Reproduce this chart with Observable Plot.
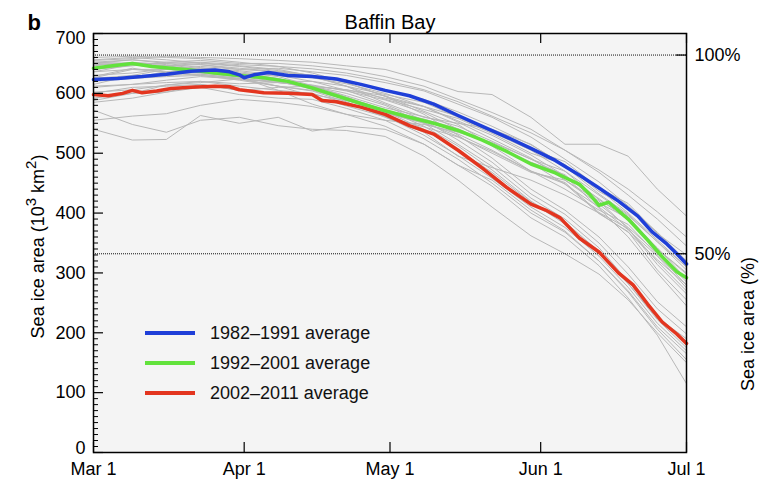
<!DOCTYPE html>
<html>
<head>
<meta charset="utf-8">
<script src="https://cdn.jsdelivr.net/npm/d3@7"></script>
<script src="https://cdn.jsdelivr.net/npm/@observablehq/plot@0.6"></script>
<style>
  html, body { margin: 0; padding: 0; background: #ffffff; }
  #chart { width: 770px; height: 482px; }
</style>
</head>
<body>
<div id="chart"></div>
<script>
// ---------- DATA ----------
const title = "Baffin Bay";
const panelLetter = "b";
const yLabelLeftParts = ["Sea ice area (10", "3", " km", "2", ")"];
const yLabelRight = "Sea ice area (%)";
const yTicks = [0, 100, 200, 300, 400, 500, 600, 700];
const monthTickLabels = ["Mar 1", "Apr 1", "May 1", "Jun 1", "Jul 1"];
const pctValues = [664, 332];
const pctLabels = ["100%", "50%"];

// days since Mar 1 for individual years
const grayDays = [0, 8, 15, 22, 30, 38, 45, 52, 60, 68, 75, 82, 90, 97, 104, 110, 116, 122];
const gray1982_1991 = [
  [655,658,662,660,658,655,652,646,640,622,603,598,560,515,515,495,440,395],
  [640,646,652,655,650,650,646,640,628,612,590,568,540,505,468,430,390,345],
  [630,634,641,645,640,642,636,630,618,604,582,560,527,490,452,412,368,320],
  [612,615,622,628,624,620,620,612,598,585,560,535,505,470,430,396,352,305],
  [585,592,602,615,605,610,612,606,592,578,554,530,497,462,424,388,342,290],
  [648,650,650,652,648,645,641,634,622,606,586,562,534,505,472,440,402,360],
  [622,626,636,640,633,630,626,616,600,578,552,524,492,455,415,376,333,285],
  [602,606,614,620,616,618,614,604,589,568,540,513,484,448,410,372,328,275],
  [650,648,646,648,640,636,630,622,605,590,569,545,514,480,440,400,355,310],
  [592,600,614,618,624,612,604,586,560,535,495,476,455,430,400,368,322,280]
];
const gray1992_2001 = [
  [660,662,660,658,652,645,634,618,595,578,562,536,506,486,442,416,366,330],
  [652,656,652,648,642,636,628,612,584,560,550,540,515,478,432,398,352,310],
  [640,650,646,640,633,624,612,596,576,561,545,520,490,470,422,394,340,298],
  [626,640,636,630,624,618,612,606,596,570,548,512,470,440,405,381,330,280],
  [656,660,656,651,646,640,629,612,590,573,558,533,500,481,436,410,360,320],
  [615,630,640,636,628,620,607,590,568,551,528,500,468,455,420,374,314,265],
  [646,652,648,641,634,625,610,589,567,550,532,505,470,449,399,369,305,255],
  [636,648,641,634,627,605,582,565,555,548,535,518,490,462,408,360,300,245],
  [650,656,650,643,636,628,613,594,572,557,541,515,485,464,417,391,340,300],
  [628,642,634,632,625,612,596,579,561,544,527,503,470,451,401,374,319,270]
];
const gray2002_2011 = [
  [540,522,523,563,550,560,537,545,540,515,480,455,405,370,320,270,210,165],
  [572,548,535,555,560,546,540,538,528,495,455,410,362,332,298,255,200,150],
  [600,610,612,615,605,600,598,588,573,545,512,472,420,385,336,282,222,175],
  [625,630,630,632,625,618,612,600,580,550,515,478,425,390,342,286,228,185],
  [610,615,618,620,612,605,600,584,562,530,496,458,410,376,328,276,216,170],
  [588,600,602,610,598,592,590,575,555,524,490,450,400,368,320,268,206,155],
  [636,640,640,642,638,630,620,605,582,555,522,485,432,398,350,298,240,198],
  [555,562,566,580,590,585,578,565,545,515,480,445,392,360,312,258,196,115],
  [620,625,628,630,622,612,605,590,570,540,505,468,418,382,333,282,225,190],
  [652,650,646,650,645,638,630,618,595,565,530,492,440,405,360,310,252,210]
];

// decadal averages
const avgLabels = ["1982\u20131991 average", "1992\u20132001 average", "2002\u20132011 average"];
const avgColors = ["#1f3fd8", "#62e23c", "#e3351f"];
const blueDays = [0,5,10,15,20,25,28,30,31,33,36,40,45,50,55,60,65,70,75,80,85,90,95,100,104,108,112,115,118,120,122];
const blueVals = [623,625,628,632,637,639,636,631,626,631,635,630,628,624,615,605,596,582,563,545,527,508,488,463,442,420,395,368,348,332,315];
const greenDays = [0,4,8,12,16,20,25,30,35,40,45,50,55,60,65,70,75,80,85,90,95,100,102,104,106,110,114,117,120,122];
const greenVals = [642,646,650,645,642,639,634,630,626,620,609,596,583,571,560,550,538,522,503,482,467,448,432,413,418,390,355,327,302,292];
const redDays = [0,3,6,8,10,13,16,20,25,28,30,35,40,45,47,50,55,60,65,70,75,80,85,90,93,96,100,104,108,111,114,117,120,122];
const redVals = [598,596,600,605,601,604,608,610,612,611,606,601,600,598,588,586,577,565,546,532,505,475,443,415,405,392,358,335,300,280,248,218,198,182];

// ---------- BUILD ----------
const start = new Date(Date.UTC(2001, 2, 1));
const end = new Date(Date.UTC(2001, 6, 1));
const dayToDate = d => d3.utcDay.offset(start, d);
const monthTicks = d3.utcMonth.range(start, d3.utcDay.offset(end, 1));

const grayRows = [];
[gray1982_1991, gray1992_2001, gray2002_2011].forEach((dec, di) => {
  dec.forEach((vals, li) => {
    vals.forEach((v, k) => grayRows.push({series: `${di}-${li}`, date: dayToDate(grayDays[k]), value: v}));
  });
});
const toRows = (days, vals) => days.map((d, i) => ({date: dayToDate(d), value: vals[i]}));
const avgSeries = [toRows(blueDays, blueVals), toRows(greenDays, greenVals), toRows(redDays, redVals)];

const W = 770, H = 482;
const mL = 93, mR = 84, mT = 33, mB = 30;
const fw = W - mL - mR, fh = H - mT - mB;
const majorLen = 10, minorLen = 5;
const minorTicks = d3.range(0, 701, 10).filter(v => v % 100 !== 0);
const font = "'Liberation Sans', Arial, sans-serif";
const yMid = yTicks.filter(v => v !== 0 && v !== 700);

const chart = Plot.plot({
  width: W, height: H,
  marginLeft: mL, marginRight: mR, marginTop: mT, marginBottom: mB,
  style: {fontFamily: font, fontSize: "18px", color: "#000", background: "transparent", overflow: "visible"},
  x: {type: "utc", domain: [start, end], ticks: monthTicks, tickFormat: (d, i) => monthTickLabels[i], tickSize: 0, tickPadding: 10, label: null},
  y: {domain: [0, 700], axis: null},
  marks: [
    Plot.frame({fill: "#f4f4f4", stroke: null}),
    Plot.line(grayRows, {x: "date", y: "value", z: "series", stroke: "#b8b8b8", strokeWidth: 1}),
    Plot.ruleY(pctValues, {stroke: "#111", strokeWidth: 1, strokeDasharray: "1,1"}),
    Plot.line(avgSeries[2], {x: "date", y: "value", stroke: avgColors[2], strokeWidth: 3.5}),
    Plot.line(avgSeries[1], {x: "date", y: "value", stroke: avgColors[1], strokeWidth: 3.5}),
    Plot.line(avgSeries[0], {x: "date", y: "value", stroke: avgColors[0], strokeWidth: 3.5}),
    // inward ticks
    Plot.tickY(yTicks, {y: d => d, insetRight: fw - majorLen, stroke: "#000", strokeWidth: 1.2}),
    Plot.tickY(minorTicks, {y: d => d, insetRight: fw - minorLen, stroke: "#000", strokeWidth: 1}),
    Plot.tickY(pctValues, {y: d => d, insetLeft: fw - majorLen, stroke: "#000", strokeWidth: 1.2}),
    Plot.tickX(monthTicks, {x: d => d, insetTop: fh - majorLen, stroke: "#000", strokeWidth: 1.2}),
    Plot.tickX(monthTicks, {x: d => d, insetBottom: fh - majorLen, stroke: "#000", strokeWidth: 1.2}),
    Plot.frame({stroke: "#000", strokeWidth: 1.5}),
    // y tick labels (end labels nudged inside like the original)
    Plot.text(yMid, {x: start, y: d => d, text: d => String(d), dx: -8, textAnchor: "end", fontSize: 18}),
    Plot.text([700], {x: start, y: d => d, text: d => String(d), dx: -8, dy: 5, textAnchor: "end", fontSize: 18}),
    Plot.text([0], {x: start, y: d => d, text: d => String(d), dx: -8, dy: -4, textAnchor: "end", fontSize: 18}),
    Plot.text(pctValues, {x: end, y: d => d, text: (d, i) => pctLabels[i], dx: 8, textAnchor: "start", fontSize: 18}),
    Plot.text([title], {frameAnchor: "top", dy: -19, fontSize: 20}),
    Plot.text([panelLetter], {frameAnchor: "top-left", dx: -66, dy: -19, fontSize: 22, fontWeight: "bold"}),
    Plot.text([yLabelRight], {frameAnchor: "right", dx: 62, dy: 14, rotate: -90, fontSize: 18})
  ]
});

const svg = d3.select(chart);

// left axis label with superscripts
const ly = svg.append("text")
  .attr("transform", `translate(38, ${mT + fh / 2 + 4}) rotate(-90)`)
  .attr("text-anchor", "middle").attr("dy", "0.35em")
  .attr("font-family", font).attr("font-size", 18).attr("fill", "#000");
yLabelLeftParts.forEach((p, i) => {
  const t = ly.append("tspan").text(p);
  if (i % 2 === 1) t.attr("baseline-shift", "super").attr("font-size", 15);
});

// legend (layout relative to frame)
const lg = svg.append("g").attr("font-family", font).attr("font-size", 18).attr("text-anchor", "start");
avgLabels.forEach((lab, i) => {
  const y = mT + 300 + i * 30;
  lg.append("line").attr("x1", mL + 52).attr("x2", mL + 102).attr("y1", y).attr("y2", y)
    .attr("stroke", avgColors[i]).attr("stroke-width", 4);
  lg.append("text").attr("x", mL + 117).attr("y", y).attr("dy", "0.35em").attr("fill", "#111").text(lab);
});

document.getElementById("chart").appendChild(chart);
</script>
</body>
</html>
